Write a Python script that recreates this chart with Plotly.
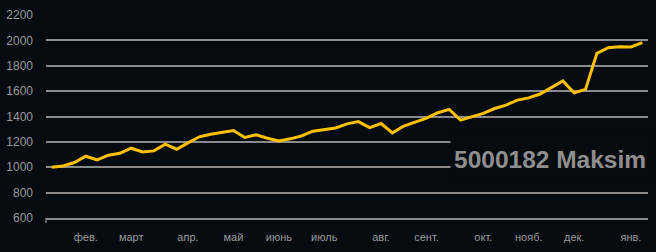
import plotly.graph_objects as go

values = [1000, 1010, 1037, 1087, 1058, 1095, 1110, 1150, 1121, 1129, 1182, 1142, 1192,
          1240, 1260, 1277, 1290, 1235, 1255, 1229, 1208, 1224, 1247, 1284, 1298,
          1310, 1342, 1360, 1313, 1345, 1271, 1325, 1356, 1387, 1430, 1456, 1371, 1397,
          1424, 1463, 1490, 1529, 1547, 1577, 1630, 1680, 1587, 1614, 1898, 1942, 1950, 1948, 1982]
weeks = list(range(len(values)))
month_idx = [3, 7, 12, 16, 20, 24, 29, 33, 38, 42, 46, 51]
month_labels = ["фев.", "март", "апр.", "май", "июнь", "июль", "авг.", "сент.", "окт.", "нояб.", "дек.", "янв."]
y_ticks = [600, 800, 1000, 1200, 1400, 1600, 1800, 2000, 2200]
title_text = "5000182 Maksim"

BG = "#050b0e"
GRID = "#8a8a8a"
TXT = "#9a9a9a"

fig = go.Figure()
fig.add_trace(go.Scatter(x=weeks, y=values, mode="lines",
                         line=dict(color="#FFC000", width=3), hoverinfo="skip"))

fig.update_layout(
    width=656, height=252,
    margin=dict(l=46, r=8, t=15, b=34, autoexpand=False),
    paper_bgcolor=BG, plot_bgcolor=BG,
    showlegend=False,
    font=dict(family="Liberation Sans, Arial, sans-serif", size=11, color=TXT),
)
fig.update_xaxes(range=[-0.5, len(values) - 0.5], tickmode="array", tickvals=month_idx,
                 ticktext=month_labels, showgrid=False, zeroline=False,
                 showline=True, linecolor=GRID, linewidth=1.5, ticks="",
                 ticklabelstandoff=8, tickfont=dict(size=11, color=TXT), automargin=False)
fig.update_yaxes(range=[600, 2200], tickmode="array", tickvals=y_ticks,
                 showgrid=True, gridcolor=GRID, gridwidth=1.5, zeroline=False,
                 showline=False, ticks="", ticklabelstandoff=12,
                 tickfont=dict(size=12, color=TXT), automargin=False)

# left tick mark at axis start
fig.add_shape(type="line", xref="paper", yref="paper", x0=0, x1=0, y0=0, y1=-0.025,
              line=dict(color=GRID, width=1.5))
# dark box behind the name, covering gridlines
fig.add_shape(type="rect", xref="paper", yref="paper", x0=0.672, x1=1.01, y0=0.17, y1=0.44,
              fillcolor=BG, line=dict(width=0), layer="above")
fig.add_annotation(text="<b>" + title_text + "</b>", xref="paper", yref="paper",
                   x=1.0, y=0.29, xanchor="right", yanchor="middle", showarrow=False,
                   font=dict(family="Liberation Sans, Arial, sans-serif", size=24.5, color="#8f8f8f"))

fig.write_html("out.html")
